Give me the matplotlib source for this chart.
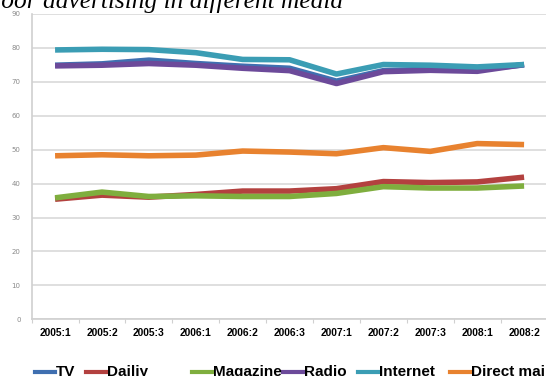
import numpy as np
import matplotlib.pyplot as plt
from matplotlib.lines import Line2D

# quarterly share per medium
periods = ['2005:1', '2005:2', '2005:3', '2006:1', '2006:2', '2006:3',
           '2007:1', '2007:2', '2007:3', '2008:1', '2008:2']
tv       = [74.9, 75.3, 76.4, 75.4, 74.6, 74.0, 70.2, 73.3, 73.7, 73.6, 75.0]
dailiy   = [35.4, 36.6, 36.0, 36.8, 37.8, 37.8, 38.5, 40.6, 40.3, 40.5, 41.9]
magazine = [35.8, 37.5, 36.2, 36.4, 36.2, 36.2, 37.1, 39.1, 38.7, 38.7, 39.3]
radio    = [74.7, 74.9, 75.4, 74.9, 74.0, 73.3, 69.5, 73.0, 73.4, 73.1, 75.1]
internet = [79.4, 79.6, 79.5, 78.6, 76.6, 76.5, 72.3, 75.1, 74.9, 74.4, 75.1]
direct   = [48.2, 48.5, 48.2, 48.4, 49.6, 49.3, 48.8, 50.6, 49.5, 51.8, 51.5]

names = ['TV', 'Dailiy', 'Magazine', 'Radio', 'Internet', 'Direct mail']
series = [tv, dailiy, magazine, radio, internet, direct]
colors = ['#3f6fb0', '#b3413f', '#7fae3e', '#6c4a9a', '#3b9db4', '#e8822f']

fig = plt.figure(figsize=(5.46, 3.76), dpi=100)
ax = fig.add_axes([0.0579, 0.1508, 0.9449, 0.812])

x = np.arange(len(periods))
for vals, c in zip(series, colors):
    ax.plot(x, vals, color=c, lw=4.0, solid_capstyle='butt', solid_joinstyle='round')

ax.set_xlim(-0.5, len(periods) - 0.5)
ax.set_ylim(0, 90)
ax.set_yticks(range(0, 91, 10))
ax.yaxis.grid(True, color='#dcdcdc', lw=1.3)
ax.set_axisbelow(True)
for s in ['top', 'right']:
    ax.spines[s].set_visible(False)
ax.spines['left'].set_color('#d0d0d0')
ax.spines['bottom'].set_color('#d0d0d0')
ax.spines['left'].set_linewidth(1.2)
ax.spines['bottom'].set_linewidth(1.2)

# category labels between boundary ticks
ax.set_xticks(np.arange(-0.5, len(periods), 1))
ax.set_xticklabels([])
ax.set_xticks(x, minor=True)
ax.set_xticklabels(periods, minor=True, fontsize=7.4, fontweight='bold',
                   family='Liberation Sans')
ax.tick_params(axis='x', which='major', length=3, color='#d0d0d0')
ax.tick_params(axis='x', which='minor', length=0, pad=6)
ax.tick_params(axis='y', length=0, labelsize=5, labelcolor='#8a8a8a', pad=8)

fig.text(343 / 546, 1 - 8 / 376, 'outdoor advertising in different media',
         ha='right', va='baseline', fontsize=18.3, style='italic',
         family='Liberation Serif')

# legend row along the bottom edge
handle_x = [35, 86, 192, 283, 358, 450]
for hx, name, c in zip(handle_x, names, colors):
    fig.add_artist(Line2D([hx / 546, (hx + 20) / 546], [1 - 371.5 / 376] * 2,
                          color=c, lw=3, transform=fig.transFigure))
    fig.text((hx + 21) / 546, 0.0, name, ha='left', va='baseline',
             fontsize=11, fontweight='bold', family='Liberation Sans')

fig.savefig('out.png', dpi=100)
